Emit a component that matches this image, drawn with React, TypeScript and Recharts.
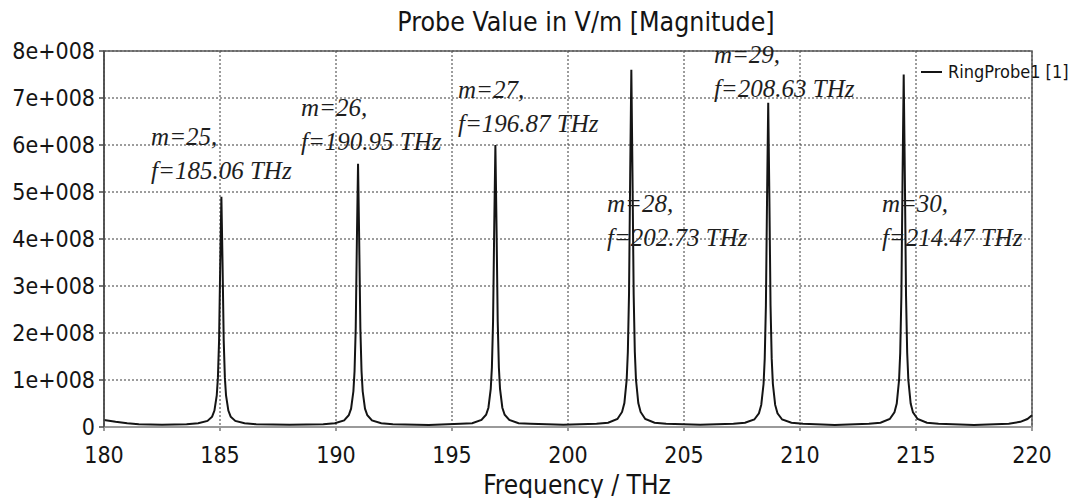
import { LineChart, Line, XAxis, YAxis, CartesianGrid, ReferenceArea, ReferenceDot, Legend } from 'recharts'

// frequency in THz, magnitude in 1e8 V/m
const FREQ = [
  180.0, 180.5, 181.0, 181.5, 182.5,
  183.56, 184.06, 184.46, 184.66, 184.76, 184.86, 184.91, 184.96, 185.01, 185.06,
  185.11, 185.16, 185.21, 185.26, 185.36, 185.46, 185.66, 186.06, 186.56,
  188.0,
  189.45, 189.95, 190.35, 190.55, 190.65, 190.75, 190.8, 190.85, 190.9, 190.95,
  191.0, 191.05, 191.1, 191.15, 191.25, 191.35, 191.55, 191.95, 192.45,
  194.0,
  195.37, 195.87, 196.27, 196.47, 196.57, 196.67, 196.72, 196.77, 196.82, 196.87,
  196.92, 196.97, 197.02, 197.07, 197.17, 197.27, 197.47, 197.87, 198.37,
  199.8,
  201.23, 201.73, 202.13, 202.33, 202.43, 202.53, 202.58, 202.63, 202.68, 202.73,
  202.78, 202.83, 202.88, 202.93, 203.03, 203.13, 203.33, 203.73, 204.23,
  205.7,
  207.13, 207.63, 208.03, 208.23, 208.33, 208.43, 208.48, 208.53, 208.58, 208.63,
  208.68, 208.73, 208.78, 208.83, 208.93, 209.03, 209.23, 209.63, 210.13,
  211.5,
  212.97, 213.47, 213.87, 214.07, 214.17, 214.27, 214.32, 214.37, 214.42, 214.47,
  214.52, 214.57, 214.62, 214.67, 214.77, 214.87, 215.07, 215.47, 215.97,
  217.5, 219.0, 219.5, 219.8, 220.0,
]

const MAG = [
  0.15, 0.11, 0.08, 0.06, 0.05,
  0.06, 0.08, 0.13, 0.22, 0.35, 0.67, 1.05, 1.84, 3.47, 4.9,
  3.47, 1.84, 1.05, 0.67, 0.35, 0.22, 0.13, 0.08, 0.06,
  0.05,
  0.06, 0.08, 0.14, 0.25, 0.39, 0.76, 1.19, 2.1, 3.96, 5.6,
  3.96, 2.1, 1.19, 0.76, 0.39, 0.25, 0.14, 0.08, 0.06,
  0.04,
  0.07, 0.08, 0.15, 0.26, 0.41, 0.81, 1.27, 2.25, 4.24, 6.0,
  4.24, 2.25, 1.27, 0.81, 0.41, 0.26, 0.15, 0.08, 0.07,
  0.05,
  0.07, 0.09, 0.17, 0.32, 0.51, 1.01, 1.6, 2.83, 5.35, 7.6,
  5.35, 2.83, 1.6, 1.01, 0.51, 0.32, 0.17, 0.09, 0.07,
  0.05,
  0.07, 0.09, 0.16, 0.29, 0.47, 0.92, 1.46, 2.58, 4.87, 6.9,
  4.87, 2.58, 1.46, 0.92, 0.47, 0.29, 0.16, 0.09, 0.07,
  0.04,
  0.07, 0.09, 0.17, 0.31, 0.5, 1.0, 1.58, 2.8, 5.29, 7.5,
  5.29, 2.8, 1.58, 1.0, 0.5, 0.31, 0.17, 0.09, 0.07,
  0.04, 0.07, 0.11, 0.17, 0.25,
]

const X_TICKS = [180, 185, 190, 195, 200, 205, 210, 215, 220]
const Y_TICKS = [0, 1, 2, 3, 4, 5, 6, 7, 8]

// resonance labels: mode number, frequency text, anchor (THz, 1e8 V/m)
const ANN_M = [25, 26, 27, 28, 29, 30]
const ANN_F = ['185.06', '190.95', '196.87', '202.73', '208.63', '214.47']
const ANN_X = [182.03, 188.49, 195.26, 201.68, 206.29, 213.53]
const ANN_Y = [6.0, 6.62, 7.0, 4.57, 7.74, 4.57]

const data = FREQ.map((f, i) => ({ f, v: MAG[i] }))

const SANS = "'DejaVu Sans Condensed', 'DejaVu Sans', sans-serif"
const INK = '#141414'

function RingLegend() {
  return (
    <div style={{ display: 'flex', alignItems: 'center', fontFamily: SANS, fontStretch: 'condensed', fontSize: 18, color: INK }}>
      <span style={{ display: 'inline-block', width: 21, height: 2, background: INK, marginRight: 6 }} />
      RingProbe1 [1]
    </div>
  )
}

export default function App() {
  return (
    <div style={{ position: 'absolute', left: 0, top: 0, width: 1072, height: 498, background: '#fff' }}>
      <div
        style={{
          position: 'absolute', left: 0, width: 1072, top: 6, textAlign: 'center', paddingLeft: 100,
          boxSizing: 'border-box', fontFamily: SANS, fontStretch: 'condensed', fontSize: 26.5, color: INK,
        }}
      >
        Probe Value in V/m [Magnitude]
      </div>
      <LineChart width={1072} height={498} data={data} margin={{ top: 51, right: 40, bottom: 31, left: 0 }}>
        <CartesianGrid stroke="#3a3a3a" strokeDasharray="2 2" horizontalValues={Y_TICKS} verticalValues={X_TICKS} />
        <ReferenceArea x1={180} x2={220} y1={0} y2={8} fill="none" stroke="#5a5a5a" strokeWidth={1.5} />
        <XAxis
          dataKey="f"
          type="number"
          domain={[180, 220]}
          ticks={X_TICKS}
          height={40}
          stroke="#9a9a9a"
          strokeWidth={2}
          tickSize={4}
          tickMargin={16}
          tick={{ fill: INK, fontSize: 23, fontFamily: SANS, fontStretch: 'condensed' }}
        />
        <YAxis
          type="number"
          domain={[0, 8]}
          ticks={Y_TICKS}
          width={104}
          stroke="#4a4a4a"
          strokeWidth={1.5}
          tickSize={5}
          tickMargin={4}
          tickFormatter={(v: number) => (v === 0 ? '0' : `${v}e+008`)}
          tick={{ fill: INK, fontSize: 23, fontFamily: SANS, fontStretch: 'condensed' }}
        />
        <Legend
          layout="horizontal"
          align="center"
          verticalAlign="middle"
          content={() => <RingLegend />}
          wrapperStyle={{ left: 921, top: 61, width: 160 }}
        />
        <Line
          type="linear"
          dataKey="v"
          stroke={INK}
          strokeWidth={2}
          dot={false}
          isAnimationActive={false}
        />
        {ANN_M.map((m, i) => (
          <ReferenceDot
            key={m}
            x={ANN_X[i]}
            y={ANN_Y[i]}
            r={1}
            shape={(p: any) => (
              <text
                x={p.cx}
                y={p.cy}
                fill="#1e1e1e"
                fontFamily="'Liberation Serif', 'Times New Roman', serif"
                fontStyle="italic"
                fontSize={25}
              >
                <tspan x={p.cx}>m={m},</tspan>
                <tspan x={p.cx} dy={34}>f={ANN_F[i]} THz</tspan>
              </text>
            )}
          />
        ))}
      </LineChart>
      <div
        style={{
          position: 'absolute', left: 0, width: 1072, top: 470, textAlign: 'center', paddingLeft: 82,
          boxSizing: 'border-box', fontFamily: SANS, fontStretch: 'condensed', fontSize: 26, color: INK,
        }}
      >
        Frequency / THz
      </div>
    </div>
  )
}
